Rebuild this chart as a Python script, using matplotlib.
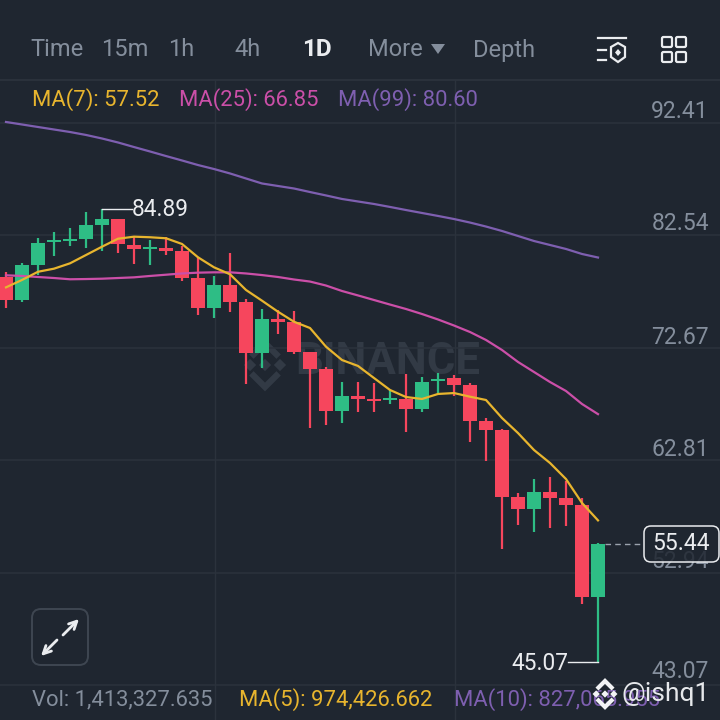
import matplotlib
matplotlib.use("Agg")
import matplotlib.pyplot as plt
from matplotlib.colors import to_rgba
from matplotlib.patches import FancyBboxPatch, Polygon, Rectangle

RENK = {
    "zemin": "#1F2630",
    "izgara": "#2B323C",
    "gri": "#848E9C",
    "yesil": "#2EBD85",
    "kirmizi": "#F6465D",
    "beyaz": "#EAECEF",
    "filigran": "#323A45",
    "ma7": "#E8B52E",
    "ma25": "#CB4FA8",
    "ma99": "#7E5FB0",
}

# candles, oldest first
acilis = [78.89, 76.87, 79.94, 81.96, 82.05, 82.23, 83.45, 83.98, 81.70, 81.35,
          81.44, 81.17, 78.80, 76.17, 78.19, 76.69, 72.22, 75.20, 74.94, 72.30,
          70.81, 67.12, 68.44, 68.18, 68.09, 68.18, 67.30, 69.76, 70.02, 69.41,
          66.25, 65.46, 59.57, 58.52, 60.01, 59.49, 58.87, 50.79]
kapanis = [76.87, 79.94, 81.87, 82.14, 82.23, 83.45, 83.98, 81.79, 81.35, 81.52,
           81.17, 78.80, 76.17, 78.19, 76.69, 72.22, 75.20, 74.94, 72.30, 70.81,
           67.12, 68.44, 68.18, 68.00, 68.27, 67.30, 69.67, 69.93, 69.41, 66.25,
           65.46, 59.57, 58.52, 60.01, 59.49, 58.87, 50.79, 55.44]
yuksek = [79.33, 80.12, 82.31, 82.84, 83.19, 84.60, 84.89, 83.98, 82.40, 82.14,
          82.40, 81.61, 80.65, 78.98, 81.00, 76.96, 76.08, 75.99, 75.90, 72.30,
          70.99, 69.67, 69.67, 69.58, 68.97, 70.37, 70.11, 70.46, 70.28, 69.58,
          66.51, 65.54, 59.92, 61.15, 61.33, 60.98, 59.49, 55.53]
dusuk = [76.17, 76.69, 79.06, 80.73, 81.61, 81.44, 81.17, 81.00, 80.03, 79.94,
         80.82, 78.54, 75.55, 75.29, 75.82, 69.49, 70.90, 73.88, 72.13, 65.63,
         65.89, 66.07, 67.04, 67.04, 67.74, 65.28, 67.04, 68.70, 68.44, 64.40,
         62.73, 55.01, 57.11, 56.50, 56.85, 57.03, 50.18, 45.07]

ma7 = [77.98, 78.63, 79.35, 79.62, 80.09, 80.82, 81.55, 82.25, 82.43, 82.38,
       82.29, 81.79, 80.62, 79.74, 79.13, 77.75, 76.81, 75.84, 74.96, 74.41,
       72.77, 71.60, 71.08, 70.02, 68.97, 68.35, 68.18, 68.62, 68.70, 68.38,
       68.09, 66.51, 65.19, 63.70, 62.56, 61.15, 59.05, 57.52]
ma25 = [79.04, 78.98, 78.89, 78.80, 78.69, 78.71, 78.74, 78.80, 78.86, 78.98,
        79.09, 79.20, 79.27, 79.30, 79.30, 79.20, 79.06, 78.89, 78.67, 78.49,
        78.14, 77.66, 77.27, 76.87, 76.47, 76.08, 75.64, 75.16, 74.63, 74.06,
        73.36, 72.48, 71.43, 70.55, 69.67, 68.88, 67.74, 66.85]
ma99 = [92.50, 92.28, 92.06, 91.84, 91.62, 91.36, 91.05, 90.70, 90.30, 89.91,
        89.51, 89.12, 88.72, 88.37, 87.98, 87.54, 87.10, 86.88, 86.66, 86.35,
        86.05, 85.74, 85.52, 85.30, 85.04, 84.77, 84.51, 84.25, 83.98, 83.67,
        83.32, 82.93, 82.49, 82.05, 81.70, 81.35, 80.91, 80.60]

fiyat_etiket = [92.41, 82.54, 72.67, 62.81, 52.94, 43.07]
sekmeler = ["Time", "15m", "1h", "4h", "1D", "More", "Depth"]
sekme_x = [30, 101, 168, 234, 302, 368, 473]

FONT = "Roboto"


def logo(ax, cx, cy, r, renk, lw, zorder=8):
    # binance elmas simgesi
    k = r * 0.28
    for dx in (0, -r * 0.68, r * 0.68):
        ax.add_patch(Polygon([(cx + dx - k, cy), (cx + dx, cy - k),
                              (cx + dx + k, cy), (cx + dx, cy + k)],
                             facecolor=renk, edgecolor="none", zorder=zorder))
    for yon in (-1, 1):
        ax.plot([cx - r * 0.62, cx, cx + r * 0.62],
                [cy + yon * r * 0.38, cy + yon * r, cy + yon * r * 0.38],
                color=renk, lw=lw, solid_joinstyle="miter",
                solid_capstyle="butt", zorder=zorder)


fig = plt.figure(figsize=(7.2, 7.2), dpi=100, facecolor=RENK["zemin"])

# en alt katman: filigran ve dikey cizgiler, piksel koordinatli
alt = fig.add_axes([0, 0, 1, 1], facecolor=RENK["zemin"])
alt.set_xlim(0, 720)
alt.set_ylim(720, 0)
alt.axis("off")
for vx in (214.5, 454.5):
    alt.plot([vx, vx], [80, 720], color=RENK["izgara"], lw=1.0, zorder=1)
alt.text(388, 362, "BINANCE", color=RENK["filigran"], fontsize=31.5, fontweight="bold",
         family=FONT, ha="center", va="center", zorder=2)
logo(alt, 265, 365, 22, RENK["filigran"], lw=4.5, zorder=2)

# grafik ekseni: x mum sirasi, y fiyat
ax = fig.add_axes([0, 0, 1, 1], facecolor="none")
ax.set_xlim(-0.375, 44.625)
ax.set_ylim(103.21 - 0.0878 * 720, 103.21)
ax.axis("off")

for f in fiyat_etiket:
    ax.axhline(f, color=RENK["izgara"], lw=1.1, zorder=1)

sira = list(range(len(acilis)))
for i in sira:
    renk = RENK["yesil"] if kapanis[i] >= acilis[i] else RENK["kirmizi"]
    ax.vlines(i, dusuk[i], yuksek[i], color=renk, lw=1.6, zorder=3)
    ax.bar(i, kapanis[i] - acilis[i], bottom=acilis[i], width=0.88,
           color=renk, linewidth=0, zorder=3)

ax.plot(sira, ma99, color=RENK["ma99"], lw=1.6, zorder=4)
ax.plot(sira, ma25, color=RENK["ma25"], lw=1.6, zorder=4)
ax.plot(sira, ma7, color=RENK["ma7"], lw=1.6, zorder=4)

# arayuz katmani
ui = fig.add_axes([0, 0, 1, 1], facecolor="none")
ui.set_xlim(0, 720)
ui.set_ylim(720, 0)
ui.axis("off")

ui.add_patch(Rectangle((0, 0), 720, 80, facecolor=RENK["zemin"], edgecolor="none", zorder=2))
ui.plot([0, 720], [80, 80], color=RENK["izgara"], lw=1.4, zorder=3)

# sekmeler
for ad, sx in zip(sekmeler, sekme_x):
    secili = ad == "1D"
    ui.text(sx, 50, ad, color=RENK["beyaz"] if secili else RENK["gri"],
            fontsize=17 if not secili else 17.5, fontweight="bold" if secili else "normal",
            family=FONT, ha="left", va="center", zorder=6)
ui.add_patch(Polygon([(431, 44), (445, 44), (438, 54)], facecolor=RENK["gri"],
                     edgecolor="none", zorder=6))

# sag ust simgeler
for y0, x0, x1 in [(38, 598, 626), (50, 598, 606), (60, 598, 606)]:
    ui.plot([x0, x1], [y0, y0], color=RENK["beyaz"], lw=1.6, zorder=6)
ui.add_patch(Polygon([(618, 43), (625, 47), (625, 57), (618, 62), (611, 57), (611, 47)], closed=True,
                     facecolor="none", edgecolor=RENK["beyaz"], lw=1.6, zorder=6))
ui.add_patch(Polygon([(618, 49), (621, 52.5), (618, 56), (615, 52.5)], facecolor=RENK["beyaz"],
                     edgecolor="none", zorder=6))
for kx, ky in [(662, 37), (676, 37), (662, 52), (676, 52)]:
    ui.add_patch(FancyBboxPatch((kx, ky), 10, 10, boxstyle="round,pad=0,rounding_size=1.5",
                                facecolor="none", edgecolor=RENK["beyaz"], lw=1.6, zorder=6))

# ma basliklari
for metin, tx, renk in [("MA(7): 57.52", 32, RENK["ma7"]), ("MA(25): 66.85", 179, RENK["ma25"]),
                        ("MA(99): 80.60", 338, RENK["ma99"])]:
    ui.text(tx, 100, metin, color=renk, fontsize=15.8, family=FONT, ha="left", va="center", zorder=6)

# fiyat etiketleri
for f, py in zip(fiyat_etiket, [112, 224, 337, 449, 562, 672]):
    ui.text(709, py, f"{f:.2f}", color=RENK["gri"], fontsize=16.5, family=FONT,
            ha="right", va="center", zorder=5)

# tepe ve dip
ui.plot([102, 132], [208.5, 208.5], color=RENK["beyaz"], lw=1.0, zorder=6)
ui.text(132, 210, "84.89", color=RENK["beyaz"], fontsize=16.3, family=FONT, ha="left", va="center", zorder=6)
ui.plot([568, 598], [662, 662], color=RENK["beyaz"], lw=1.0, zorder=6)
ui.text(568, 663, "45.07", color=RENK["beyaz"], fontsize=16.3, family=FONT, ha="right", va="center", zorder=6)

# son fiyat kutusu
ui.plot([605, 644], [544, 544], color="#9AA2AD", lw=1.0, ls=(0, (4, 3)), zorder=6)
ui.add_patch(FancyBboxPatch((644, 526), 75, 36, boxstyle="round,pad=0,rounding_size=7",
                            facecolor=to_rgba(RENK["zemin"], 0.85), edgecolor=RENK["beyaz"],
                            lw=1.1, zorder=6))
ui.text(681.5, 544, "55.44", color=RENK["beyaz"], fontsize=16.5, family=FONT,
        ha="center", va="center", zorder=7)

# buyutme dugmesi
ui.add_patch(FancyBboxPatch((32, 609), 56, 56, boxstyle="round,pad=0,rounding_size=9",
                            facecolor="none", edgecolor="#3E4651", lw=1.4, zorder=6))
ui.annotate("", xy=(79, 619), xytext=(63, 635), zorder=7,
            arrowprops=dict(arrowstyle="->", color=RENK["beyaz"], lw=2, mutation_scale=14, shrinkA=0, shrinkB=0))
ui.annotate("", xy=(41, 656), xytext=(57, 640), zorder=7,
            arrowprops=dict(arrowstyle="->", color=RENK["beyaz"], lw=2, mutation_scale=14, shrinkA=0, shrinkB=0))

# hacim satiri
for metin, tx, renk in [("Vol: 1,413,327.635", 32, RENK["gri"]), ("MA(5): 974,426.662", 239, RENK["ma7"]),
                        ("MA(10): 827,065.955", 454, RENK["ma99"])]:
    ui.text(tx, 700, metin, color=renk, fontsize=15.8, family=FONT, ha="left", va="center", zorder=6)

# kullanici filigrani
logo(ui, 605, 694, 13, "#F2F3F5", lw=3, zorder=8)
ui.text(710, 694, "@ishq1", color="#E6E8EB", fontsize=19, family=FONT, ha="right", va="center", zorder=8)

fig.savefig("out.png", dpi=100, facecolor=RENK["zemin"])
plt.close(fig)
